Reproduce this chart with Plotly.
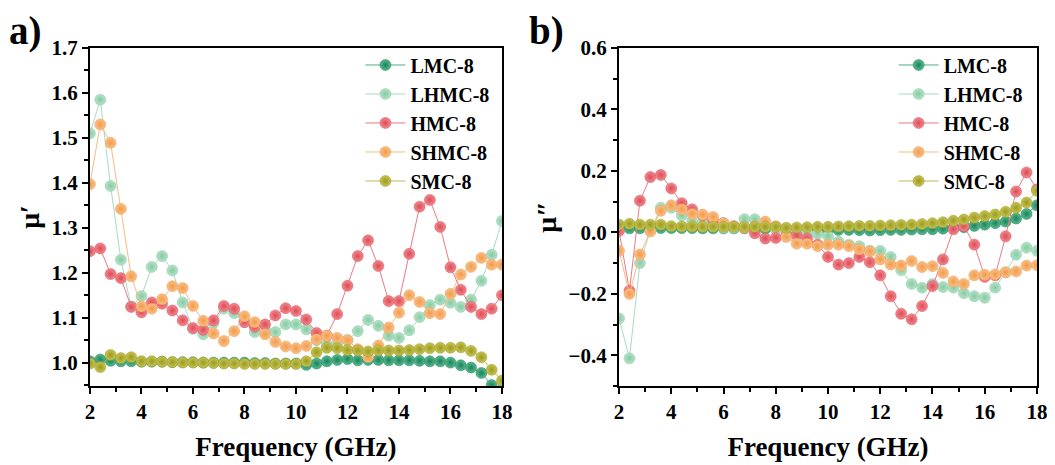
import plotly.graph_objects as go

freq = [2.0, 2.4, 2.8, 3.2, 3.6, 4.0, 4.4, 4.8, 5.2, 5.6, 6.0, 6.4, 6.8, 7.2, 7.6, 8.0,
        8.4, 8.8, 9.2, 9.6, 10.0, 10.4, 10.8, 11.2, 11.6, 12.0, 12.4, 12.8, 13.2, 13.6,
        14.0, 14.4, 14.8, 15.2, 15.6, 16.0, 16.4, 16.8, 17.2, 17.6, 18.0]

series_names = ["LMC-8", "LHMC-8", "HMC-8", "SHMC-8", "SMC-8"]

# real part mu'
mu1_LMC = [1.003, 1.007, 1.004, 1.003, 1.003, 1.002, 1.002, 1.002, 1.001, 1.001, 1.001, 1.000,
           1.000, 1.000, 1.000, 1.000, 0.999, 0.999, 0.998, 0.998, 0.998, 0.995, 0.998, 1.003,
           1.006, 1.008, 1.005, 1.006, 1.006, 1.005, 1.005, 1.005, 1.004, 1.003, 1.003, 1.000,
           0.994, 0.989, 0.977, 0.950, 0.940]
mu1_LHMC = [1.510, 1.585, 1.393, 1.229, 1.125, 1.148, 1.213, 1.237, 1.205, 1.134, 1.075, 1.063,
            1.088, 1.120, 1.110, 1.090, 1.068, 1.072, 1.068, 1.085, 1.085, 1.074, 1.050, 1.040,
            1.040, 1.050, 1.070, 1.095, 1.082, 1.060, 1.055, 1.072, 1.101, 1.128, 1.140, 1.133,
            1.124, 1.140, 1.182, 1.240, 1.315]
mu1_HMC = [1.248, 1.254, 1.197, 1.188, 1.124, 1.112, 1.134, 1.131, 1.116, 1.094, 1.077, 1.073,
           1.094, 1.126, 1.120, 1.090, 1.080, 1.085, 1.105, 1.121, 1.115, 1.096, 1.066, 1.060,
           1.108, 1.171, 1.237, 1.272, 1.215, 1.137, 1.137, 1.242, 1.347, 1.362, 1.302, 1.212,
           1.162, 1.124, 1.108, 1.120, 1.150]
mu1_SHMC = [1.397, 1.530, 1.489, 1.342, 1.192, 1.125, 1.120, 1.141, 1.170, 1.166, 1.126, 1.093,
            1.065, 1.048, 1.070, 1.103, 1.090, 1.063, 1.046, 1.036, 1.032, 1.037, 1.052, 1.060,
            1.055, 1.050, 1.030, 1.012, 1.038, 1.078, 1.111, 1.150, 1.135, 1.110, 1.108, 1.153,
            1.196, 1.213, 1.233, 1.218, 1.218]
mu1_SMC = [0.998, 0.990, 1.017, 1.010, 1.012, 1.003, 1.003, 1.002, 1.001, 1.000, 1.000, 1.000,
           0.999, 0.998, 0.998, 0.997, 0.997, 0.997, 0.997, 0.997, 0.997, 1.003, 1.023, 1.033,
           1.032, 1.028, 1.027, 1.025, 1.027, 1.027, 1.027, 1.028, 1.030, 1.032, 1.033, 1.033,
           1.034, 1.026, 1.012, 0.984, 0.960]

# imaginary part mu''
mu2_LMC = [0.015, 0.013, 0.013, 0.014, 0.014, 0.014, 0.014, 0.014, 0.013, 0.013, 0.013, 0.013,
           0.013, 0.012, 0.012, 0.011, 0.010, 0.010, 0.009, 0.009, 0.008, 0.008, 0.008, 0.007,
           0.006, 0.007, 0.008, 0.008, 0.009, 0.010, 0.010, 0.012, 0.014, 0.017, 0.021, 0.025,
           0.030, 0.035, 0.045, 0.060, 0.088]
mu2_LHMC = [-0.280, -0.410, -0.100, 0.005, 0.080, 0.080, 0.055, 0.035, 0.030, 0.020, 0.015, 0.015,
            0.043, 0.043, 0.020, 0.010, 0.010, 0.005, 0.000, -0.005, -0.012, -0.030, -0.040, -0.045,
            -0.060, -0.060, -0.080, -0.123, -0.168, -0.180, -0.168, -0.178, -0.180, -0.198, -0.208,
            -0.213, -0.180, -0.130, -0.073, -0.050, -0.060]
mu2_HMC = [0.005, -0.190, 0.103, 0.180, 0.187, 0.143, 0.095, 0.075, 0.055, 0.040, 0.030, 0.020,
           0.015, -0.003, -0.020, -0.018, -0.010, -0.010, -0.020, -0.040, -0.080, -0.105, -0.100,
           -0.080, -0.097, -0.140, -0.208, -0.265, -0.283, -0.240, -0.175, -0.088, 0.010, 0.020,
           -0.040, -0.145, -0.140, -0.013, 0.133, 0.195, 0.140]
mu2_SHMC = [-0.060, -0.200, -0.072, 0.003, 0.070, 0.088, 0.075, 0.060, 0.058, 0.050, 0.030, 0.020,
            0.015, 0.020, 0.035, 0.020, -0.015, -0.037, -0.037, -0.045, -0.040, -0.040, -0.045,
            -0.055, -0.062, -0.088, -0.105, -0.108, -0.093, -0.113, -0.110, -0.132, -0.160, -0.168,
            -0.140, -0.138, -0.137, -0.130, -0.127, -0.108, -0.107]
mu2_SMC = [0.025, 0.028, 0.025, 0.025, 0.025, 0.020, 0.019, 0.019, 0.018, 0.018, 0.018, 0.018,
           0.018, 0.018, 0.018, 0.018, 0.015, 0.016, 0.017, 0.018, 0.018, 0.019, 0.020, 0.021,
           0.021, 0.022, 0.023, 0.024, 0.025, 0.027, 0.030, 0.033, 0.038, 0.042, 0.048, 0.053,
           0.058, 0.067, 0.080, 0.097, 0.135]

mu1 = [mu1_LMC, mu1_LHMC, mu1_HMC, mu1_SHMC, mu1_SMC]
mu2 = [mu2_LMC, mu2_LHMC, mu2_HMC, mu2_SHMC, mu2_SMC]

marker_colors = ["#17845a", "#86c9a2", "#dc4b55", "#f29a48", "#9c9a1c"]
light_colors = ["#5cb890", "#b5e3c8", "#f28990", "#f9c08a", "#c6c456"]
line_colors = ["#4fae84", "#a8dcc0", "#ec7a82", "#f7bb82", "#bcb957"]

FONT = "Liberation Serif"

fig = go.Figure()

for data, xa, ya, lg in [(mu1, "x", "y", "legend"), (mu2, "x2", "y2", "legend2")]:
    for i, name in enumerate(series_names):
        fig.add_trace(go.Scatter(
            x=freq, y=data[i], name=name, mode="lines+markers",
            xaxis=xa, yaxis=ya, legend=lg, cliponaxis=True,
            line=dict(color=line_colors[i], width=1),
            marker=dict(size=11, color=light_colors[i],
                        gradient=dict(type="radial", color=marker_colors[i]),
                        line=dict(width=0.5, color=marker_colors[i])),
        ))

minor_common = dict(ticks="outside", ticklen=4, tickwidth=2, tickcolor="black")

axis_common = dict(
    showline=True, linecolor="black", linewidth=2, mirror=True,
    ticks="outside", ticklen=6, tickwidth=2, tickcolor="black",
    showgrid=False, zeroline=False, automargin=False,
    tickfont=dict(family=FONT, size=21, color="black", weight="bold"),
)

W, H = 1047, 457
xdom1 = [0.0783, 0.4718]
xdom2 = [0.5836, 0.9828]
ydom = [0.1729, 0.9125]

xtitle = dict(text="<b>Frequency (GHz)</b>", font=dict(family=FONT, size=27, color="black"), standoff=14)
legend_font = dict(family=FONT, size=20, color="black", weight="bold")

fig.update_layout(
    width=W, height=H,
    margin=dict(l=0, r=0, t=0, b=0, autoexpand=False),
    paper_bgcolor="white", plot_bgcolor="white",
    xaxis=dict(domain=xdom1, range=[2, 18], dtick=2, anchor="y",
               minor=dict(dtick=1, **minor_common), title=xtitle, **axis_common),
    yaxis=dict(domain=ydom, range=[0.948, 1.7], dtick=0.1, tick0=1.0, anchor="x",
               tickformat=".1f", minor=dict(dtick=0.05, **minor_common),
               title=dict(text="<b>μ′</b>", font=dict(family=FONT, size=28, color="black"), standoff=4),
               **axis_common),
    xaxis2=dict(domain=xdom2, range=[2, 18], dtick=2, anchor="y2",
                minor=dict(dtick=1, **minor_common), title=xtitle, **axis_common),
    yaxis2=dict(domain=ydom, range=[-0.5, 0.6], dtick=0.2, tick0=0.0, anchor="x2",
                tickformat=".1f", minor=dict(dtick=0.1, **minor_common),
                title=dict(text="<b>μ″</b>", font=dict(family=FONT, size=28, color="black"), standoff=4),
                **axis_common),
    legend=dict(x=0.3366, y=0.918, xanchor="left", yanchor="top", bgcolor="rgba(0,0,0,0)",
                font=legend_font, tracegroupgap=0, itemwidth=40),
    legend2=dict(x=0.8459, y=0.918, xanchor="left", yanchor="top", bgcolor="rgba(0,0,0,0)",
                 font=legend_font, tracegroupgap=0, itemwidth=40),
    annotations=[
        dict(text="<b>a)</b>", x=0.0, y=1.0, xref="paper", yref="paper", xanchor="left",
             yanchor="top", showarrow=False, borderpad=0,
             font=dict(family=FONT, size=39, color="black")),
        dict(text="<b>b)</b>", x=0.497, y=1.0, xref="paper", yref="paper", xanchor="left",
             yanchor="top", showarrow=False, borderpad=0,
             font=dict(family=FONT, size=39, color="black")),
    ],
)

fig.write_html("out.html")
